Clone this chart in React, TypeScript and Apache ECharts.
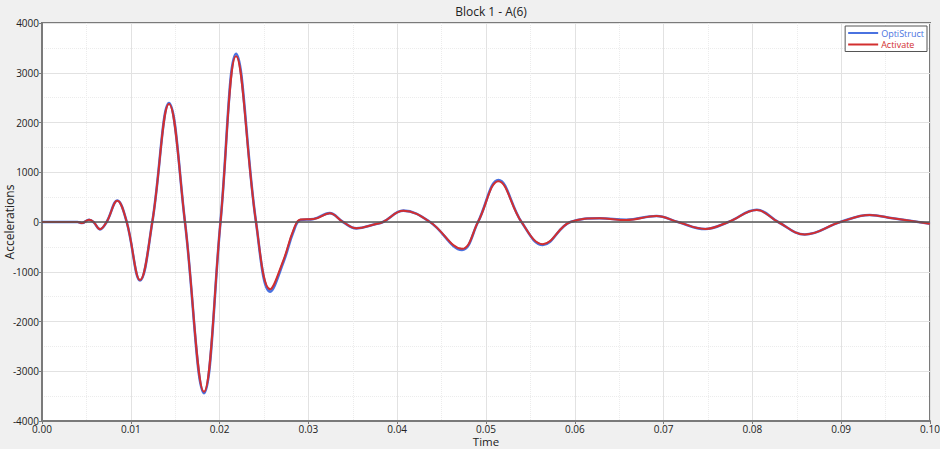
import React, { useEffect, useRef } from "react";
import * as echarts from "echarts";

const TITLE = "Block 1 - A(6)";
const SERIES_NAMES = ["OptiStruct", "Activate"];
const X_TICKS = [0, 0.01, 0.02, 0.03, 0.04, 0.05, 0.06, 0.07, 0.08, 0.09, 0.1];
const Y_TICKS = [-4000, -3000, -2000, -1000, 0, 1000, 2000, 3000, 4000];

const time = [
  0, 0.004, 0.0045, 0.0053, 0.0058, 0.00653, 0.00728, 0.00848, 0.00954, 0.01104,
  0.01242, 0.0143, 0.0161, 0.01824, 0.0201, 0.02185, 0.0241, 0.0257, 0.0272, 0.0283,
  0.0291, 0.0306, 0.0324, 0.0339, 0.0354, 0.0375, 0.0384, 0.0407, 0.0437, 0.0473,
  0.0491, 0.0514, 0.054, 0.0564, 0.0595, 0.0628, 0.0658, 0.0692, 0.0716, 0.0747,
  0.0773, 0.0805, 0.0829, 0.0859, 0.0899, 0.0932, 0.0958, 0.1,
];

const optistruct = [
  0, 0, -20, 45, 0, -148, 0, 432, 0, -1175,
  0, 2390, 0, -3440, 0, 3380, 0, -1400, -800, -200,
  40, 60, 178, 0, -128, -46, 0, 228, 0, -560,
  0, 845, 0, -460, 0, 74, 45, 122, 0, -142,
  0, 245, 0, -252, 0, 142, 74, -35,
];

const activate = [
  0, 0, -20, 45, 0, -145, 0, 428, 0, -1165,
  0, 2370, 0, -3410, 0, 3330, 0, -1350, -760, -170,
  50, 60, 175, 0, -125, -45, 0, 225, 0, -540,
  0, 820, 0, -445, 0, 74, 40, 120, 0, -140,
  0, 240, 0, -250, 0, 140, 74, -35,
];

const BLUE = "#4a72e0";
const RED = "#d22f2f";
const FONT = "'Open Sans', 'Noto Sans', sans-serif";

export default function App() {
  const ref = useRef<HTMLDivElement>(null);
  useEffect(() => {
    if (!ref.current) return;
    const chart = echarts.init(ref.current, null, { renderer: "svg" });
    const blueData = time.map((t, i) => [t, optistruct[i]]);
    const redData = time.map((t, i) => [t, activate[i]]);
    chart.setOption({
      animation: false,
      backgroundColor: "#f0f0f0",
      textStyle: { fontFamily: FONT },
      title: {
        text: TITLE,
        left: 486,
        textAlign: "center",
        top: 0,
        textStyle: { fontSize: 12, fontWeight: "normal", color: "#222", fontFamily: FONT },
      },
      legend: {
        orient: "vertical",
        right: 13,
        top: 26,
        backgroundColor: "#fff",
        borderColor: "#555",
        borderWidth: 1,
        borderRadius: 0,
        padding: [2, 3, 2, 3],
        itemGap: 1.5,
        itemWidth: 30,
        itemHeight: 2,
        icon: "rect",
        textStyle: { fontSize: 9, lineHeight: 10, fontFamily: FONT, padding: [0, 0, 0, -2] },
        data: [
          { name: SERIES_NAMES[0], textStyle: { color: BLUE } },
          { name: SERIES_NAMES[1], textStyle: { color: RED } },
        ],
      },
      grid: {
        left: 42,
        right: 10,
        top: 23,
        bottom: 28,
        outerBoundsMode: "none",
        containLabel: false,
        show: true,
        backgroundColor: "#fff",
        borderColor: "#7a7a7a",
        borderWidth: 2,
      },
      xAxis: {
        type: "value",
        min: X_TICKS[0],
        max: X_TICKS[X_TICKS.length - 1],
        interval: 0.01,
        name: "Time",
        nameLocation: "middle",
        nameGap: 14,
        nameMoveOverlap: false,
        nameTextStyle: { fontSize: 11.5, lineHeight: 12, color: "#222", fontFamily: FONT },
        axisLine: { show: true, onZero: false, lineStyle: { color: "#7a7a7a", width: 2 } },
        axisTick: { show: true, length: 3, lineStyle: { color: "#7a7a7a" } },
        axisLabel: {
          fontSize: 10,
          lineHeight: 10,
          color: "#222",
          margin: 3,
          formatter: (v: number) => v.toFixed(2),
        },
        splitLine: { show: true, lineStyle: { color: "#e2e2e2", width: 1 } },
        minorTick: { show: false, splitNumber: 2 },
        minorSplitLine: { show: true, lineStyle: { color: "#ececec", width: 1, type: "dotted" } },
      },
      yAxis: {
        type: "value",
        min: Y_TICKS[0],
        max: Y_TICKS[Y_TICKS.length - 1],
        interval: 1000,
        name: "Accelerations",
        nameLocation: "middle",
        nameGap: 27,
        nameMoveOverlap: false,
        nameTextStyle: { fontSize: 12, color: "#222", fontFamily: FONT },
        axisLine: { show: true, onZero: false, lineStyle: { color: "#7a7a7a", width: 2 } },
        axisTick: { show: true, length: 3, lineStyle: { color: "#7a7a7a" } },
        axisLabel: {
          fontSize: 10,
          lineHeight: 9,
          color: "#222",
          margin: 3,
          formatter: (v: number) => String(v),
        },
        splitLine: { show: true, lineStyle: { color: "#e2e2e2", width: 1 } },
        minorTick: { show: false, splitNumber: 2 },
        minorSplitLine: { show: true, lineStyle: { color: "#ececec", width: 1, type: "dotted" } },
      },
      series: [
        {
          name: SERIES_NAMES[0],
          type: "line",
          data: blueData,
          smooth: 0.4,
          showSymbol: false,
          symbol: "none",
          color: BLUE,
          lineStyle: { color: BLUE, width: 2.6 },
          markLine: {
            silent: true,
            symbol: "none",
            label: { show: false },
            lineStyle: { color: "#555", width: 1.5, type: "solid" },
            data: [{ yAxis: 0 }],
          },
          z: 2,
        },
        {
          name: SERIES_NAMES[1],
          type: "line",
          data: redData,
          smooth: 0.4,
          showSymbol: false,
          symbol: "none",
          color: RED,
          lineStyle: { color: RED, width: 2 },
          z: 3,
        },
      ],
    });
    return () => chart.dispose();
  }, []);
  return <div ref={ref} style={{ width: 940, height: 449, position: "fixed", left: 0, top: 0 }} />;
}
